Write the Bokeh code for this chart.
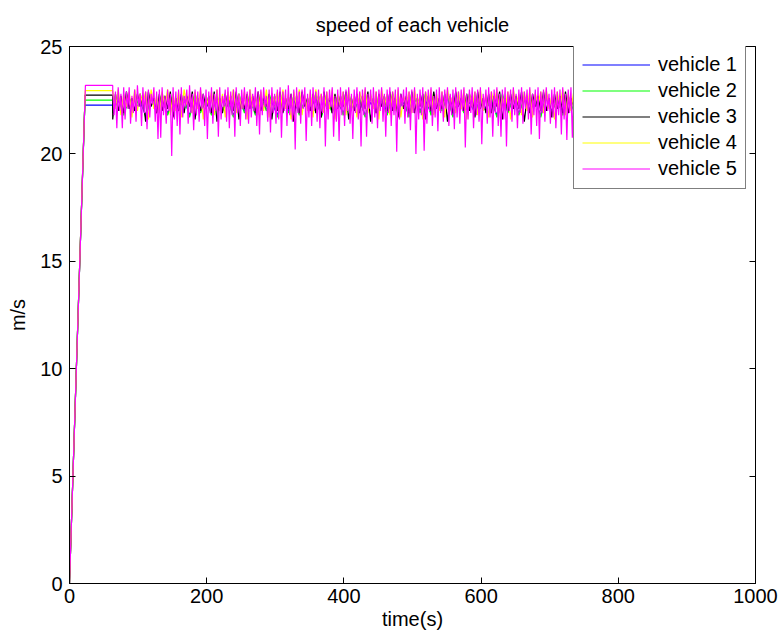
import numpy as np
from bokeh.plotting import figure
from bokeh.models import Range1d, LinearAxis, FixedTicker, CustomJSTickFormatter
from bokeh.embed import file_html
from bokeh.resources import INLINE

title_text = "speed of each vehicle"
names = ["vehicle 1", "vehicle 2", "vehicle 3", "vehicle 4", "vehicle 5"]
colors = ["#0000ff", "#00ff00", "#000000", "#ffff00", "#ff00ff"]
cruise = [22.27, 22.5, 22.74, 22.95, 23.19]     # plateau speed after the ramp
ramp_end = [22.3, 22.5, 22.7, 22.9, 23.2]       # time (s) the ramp ends
osc_start = 63                                   # time (s) oscillation begins
steps = [8, 8, 4, 4, 2]                          # sample step (s) of each series

v1 = [22.0, 22.5, 21.9, 22.6, 22.1, 22.4, 21.8, 22.6, 22.0, 22.5,
      21.9, 22.4, 22.1, 22.6, 21.8, 22.5, 22.0, 22.4, 21.9, 22.6,
      22.1, 22.5, 21.8, 22.4, 22.0, 22.6, 21.9, 22.5, 22.1, 22.4,
      21.8, 22.6, 22.0, 22.5, 21.9, 22.4, 22.1, 22.6, 21.8, 22.5,
      22.0, 22.4, 21.9, 22.6, 22.1, 22.5, 21.8, 22.4, 22.0, 22.6,
      21.9, 22.5, 22.1, 22.4, 21.8, 22.6, 22.0, 22.5, 21.9, 22.4,
      22.1, 22.6, 21.8, 22.5, 22.0, 22.4, 21.9, 22.6, 22.1, 22.5,
      21.8, 22.4, 22.0, 22.6, 21.9, 22.5, 22.1, 22.4, 21.8, 22.6,
      22.0, 22.5, 21.9, 22.4, 22.1, 22.5, 22.0]
v2 = [21.9, 22.7, 21.8, 22.6, 22.0, 22.8, 21.7, 22.6, 21.9, 22.8,
      21.8, 22.5, 22.0, 22.7, 21.7, 22.8, 21.9, 22.6, 21.8, 22.7,
      22.0, 22.5, 21.7, 22.8, 21.9, 22.6, 21.8, 22.7, 22.0, 22.8,
      21.7, 22.6, 21.9, 22.7, 21.8, 22.5, 22.0, 22.8, 21.7, 22.6,
      21.9, 22.7, 21.8, 22.8, 22.0, 22.6, 21.7, 22.7, 21.9, 22.5,
      21.8, 22.8, 22.0, 22.6, 21.7, 22.7, 21.9, 22.8, 21.8, 22.6,
      22.0, 22.7, 21.7, 22.5, 21.9, 22.8, 21.8, 22.6, 22.0, 22.7,
      21.7, 22.8, 21.9, 22.6, 21.8, 22.7, 22.0, 22.5, 21.7, 22.8,
      21.9, 22.6, 21.8, 22.7, 22.0, 22.6, 21.9]
v3 = [21.6, 22.8, 22.0, 22.7, 21.9, 22.9, 22.1, 22.6, 22.0, 22.8,
      22.2, 22.7, 21.5, 22.9, 22.2, 22.6, 21.9, 22.8, 22.0, 22.7,
      22.1, 22.9, 21.7, 22.6, 22.0, 22.8, 21.9, 22.7, 22.2, 22.9,
      21.6, 22.6, 22.0, 22.8, 22.1, 22.7, 21.9, 22.9, 21.5, 22.6,
      21.9, 22.8, 22.2, 22.7, 22.0, 22.9, 21.6, 22.6, 22.1, 22.8,
      22.1, 22.7, 21.9, 22.9, 22.0, 22.6, 22.2, 22.8, 21.6, 22.7,
      22.0, 22.9, 21.9, 22.6, 22.1, 22.8, 21.5, 22.7, 21.9, 22.9,
      22.2, 22.6, 22.0, 22.8, 21.9, 22.7, 21.7, 22.9, 22.1, 22.6,
      21.9, 22.8, 22.1, 22.7, 22.2, 22.9, 21.6, 22.6, 22.0, 22.8,
      21.9, 22.7, 22.1, 22.9, 21.5, 22.6, 21.9, 22.8, 22.2, 22.7,
      22.0, 22.9, 22.0, 22.6, 21.7, 22.8, 22.1, 22.7, 21.9, 22.9,
      21.9, 22.6, 22.2, 22.8, 21.6, 22.7, 22.0, 22.9, 22.1, 22.6,
      22.1, 22.8, 21.5, 22.7, 21.9, 22.9, 22.2, 22.6, 22.0, 22.8,
      22.0, 22.7, 21.7, 22.9, 22.1, 22.6, 21.9, 22.8, 21.9, 22.7,
      22.2, 22.9, 21.6, 22.6, 22.0, 22.8, 22.1, 22.7, 22.1, 22.9,
      21.5, 22.6, 21.9, 22.8, 22.2, 22.7, 22.0, 22.9, 22.0, 22.6,
      21.7, 22.8, 22.1, 22.7, 21.9, 22.9, 21.9, 22.6, 22.2, 22.8,
      21.6, 22.7, 22.0]
v4 = [22.9, 22.1, 23.0, 21.8, 22.8, 22.2, 22.9, 21.7, 23.0, 22.0,
      22.8, 22.3, 22.9, 21.6, 23.0, 22.1, 22.7, 21.9, 22.9, 22.2,
      23.0, 21.8, 22.8, 22.0, 22.9, 21.7, 23.0, 22.3, 22.8, 21.9,
      22.9, 22.1, 23.0, 21.6, 22.7, 22.2, 22.9, 21.8, 23.0, 22.0,
      22.8, 21.7, 22.9, 22.3, 23.0, 21.9, 22.8, 22.1, 22.9, 21.6,
      23.0, 22.2, 22.7, 21.8, 22.9, 22.0, 23.0, 21.7, 22.8, 22.3,
      22.9, 21.9, 23.0, 22.1, 22.8, 21.6, 22.9, 22.2, 23.0, 21.8,
      22.7, 22.0, 22.9, 21.7, 23.0, 22.3, 22.8, 21.9, 22.9, 22.1,
      23.0, 21.6, 22.8, 22.2, 22.9, 21.8, 23.0, 22.0, 22.7, 21.7,
      22.9, 22.3, 23.0, 21.9, 22.8, 22.1, 22.9, 21.6, 23.0, 22.2,
      22.8, 21.8, 22.9, 22.0, 23.0, 21.7, 22.7, 22.3, 22.9, 21.9,
      23.0, 22.1, 22.8, 21.6, 22.9, 22.2, 23.0, 21.8, 22.8, 22.0,
      22.9, 21.7, 23.0, 22.3, 22.7, 21.9, 22.9, 22.1, 23.0, 21.6,
      22.8, 22.2, 22.9, 21.8, 23.0, 22.0, 22.8, 21.7, 22.9, 22.3,
      23.0, 21.9, 22.7, 22.1, 22.9, 21.6, 23.0, 22.2, 22.8, 21.8,
      22.9, 22.0, 23.0, 21.7, 22.8, 22.3, 22.9, 21.9, 23.0, 22.1,
      22.7, 21.6, 22.9, 22.2, 23.0, 21.8, 22.8, 22.0, 22.9, 21.7,
      23.0, 22.3, 22.8]
v5 = [23.0, 21.8, 22.9, 21.2, 23.1, 22.0, 22.8, 21.2, 23.1, 21.6,
      22.9, 22.1, 23.1, 21.4, 22.7, 21.9, 23.0, 21.5, 23.2, 22.2,
      22.8, 21.3, 23.1, 21.9, 22.9, 21.15, 23.0, 21.7, 22.8, 22.3,
      23.1, 21.5, 22.9, 20.7, 23.0, 20.75, 23.1, 21.8, 22.7, 21.4,
      23.0, 22.0, 22.8, 19.9, 23.1, 21.6, 22.9, 21.3, 23.0, 20.9,
      23.1, 21.7, 22.7, 22.2, 23.0, 21.4, 23.2, 21.9, 22.8, 21.1,
      23.0, 21.8, 22.9, 21.5, 23.1, 22.1, 22.8, 21.3, 23.0, 20.7,
      22.9, 21.9, 23.1, 21.4, 22.8, 22.0, 23.0, 20.8, 23.1, 21.6,
      22.7, 22.2, 23.0, 21.5, 23.1, 21.2, 22.9, 21.8, 23.0, 20.8,
      23.1, 21.9, 22.8, 21.3, 23.0, 22.1, 23.1, 21.6, 22.9, 21.4,
      23.0, 21.7, 22.8, 22.0, 23.1, 21.3, 22.9, 20.9, 23.0, 21.8,
      23.1, 22.2, 22.7, 21.5, 23.0, 21.0, 23.1, 21.9, 22.8, 21.4,
      23.0, 21.6, 23.1, 20.75, 22.9, 22.0, 23.0, 21.3, 23.2, 21.8,
      22.8, 21.5, 23.0, 20.2, 23.1, 21.9, 22.9, 21.4, 23.0, 22.1,
      23.1, 20.6, 22.8, 21.7, 23.0, 21.3, 23.1, 22.0, 22.9, 21.5,
      23.0, 21.2, 22.8, 21.9, 23.1, 20.35, 22.9, 21.6, 23.0, 22.2,
      23.1, 20.8, 22.7, 21.5, 23.0, 20.6, 23.1, 21.8, 22.9, 21.3,
      23.0, 22.0, 23.1, 21.4, 22.8, 20.7, 23.0, 21.9, 23.1, 21.6,
      22.9, 20.35, 23.0, 21.8, 23.1, 20.8, 22.8, 22.1, 23.0, 21.4,
      23.1, 21.7, 22.9, 21.2, 23.0, 22.0, 23.1, 21.5, 22.8, 20.8,
      23.0, 21.9, 23.1, 21.3, 22.9, 21.8, 23.0, 20.1, 23.1, 21.6,
      22.8, 22.2, 23.0, 21.4, 23.1, 21.7, 22.9, 21.1, 23.0, 21.9,
      23.1, 20.0, 22.8, 21.6, 23.0, 21.8, 23.1, 20.15, 22.9, 21.4,
      23.0, 22.0, 23.1, 21.3, 22.7, 21.7, 23.0, 21.05, 23.1, 21.9,
      22.9, 21.5, 23.0, 22.1, 23.1, 21.3, 22.8, 21.8, 23.0, 21.15,
      23.1, 21.7, 22.9, 21.4, 23.0, 22.0, 23.1, 20.3, 22.8, 21.6,
      23.0, 21.9, 23.1, 21.2, 22.9, 21.8, 23.0, 21.5, 23.1, 20.45,
      22.8, 22.1, 23.0, 21.4, 23.1, 21.7, 22.9, 20.8, 23.0, 21.9,
      23.1, 21.3, 22.8, 20.8, 23.0, 21.6, 23.1, 20.35, 22.9, 22.0,
      23.0, 21.5, 23.1, 21.8, 22.8, 21.2, 23.0, 21.9, 23.1, 21.4,
      22.9, 22.1, 23.0, 21.6, 23.1, 20.9, 22.8, 21.8, 23.0, 21.3,
      23.1, 20.7, 22.9, 21.9, 23.0, 21.5, 23.1, 22.0, 22.8, 21.4,
      23.0, 21.7, 23.1, 21.2, 22.9, 21.8, 23.0, 20.9, 23.1, 21.6,
      22.8, 20.65, 23.0, 21.9, 23.1, 20.75, 22.9, 21.5, 23.0, 22.1,
      23.1, 21.4, 22.9, 21.8, 23.0]

series = [v1, v2, v3, v4, v5]

x_ticks = [0, 200, 400, 600, 800, 1000]
y_ticks = [0, 5, 10, 15, 20, 25]
x_lim = (0, 1000)
y_lim = (0, 25)

FONT = "Liberation Sans"
FS = "20px"

p = figure(width=783, height=642, x_range=Range1d(*x_lim), y_range=Range1d(*y_lim),
           output_backend="svg", toolbar_location=None, title=title_text,
           min_border_left=69, min_border_right=28, min_border_top=45, min_border_bottom=59,
           background_fill_color="white", border_fill_color="white")

p.title.align = "center"
p.title.text_font = FONT
p.title.text_font_size = FS
p.title.text_font_style = "normal"
p.title.text_color = "black"
p.title.standoff = 22

p.grid.visible = False
p.outline_line_color = "black"
p.outline_line_width = 1

for i in range(5):
    noise = series[i]
    t_noise = osc_start + steps[i] * np.arange(len(noise))
    t = np.concatenate([[0.0, ramp_end[i], osc_start], t_noise])
    v = np.concatenate([[0.0, cruise[i], cruise[i]], noise])
    p.line(t, v, color=colors[i], line_width=1.2, legend_label=names[i])

for ax in (p.xaxis[0], p.yaxis[0]):
    ax.axis_line_color = "black"
    ax.major_tick_line_color = "black"
    ax.major_tick_in = 6
    ax.major_tick_out = 0
    ax.minor_tick_line_color = None
    ax.major_label_text_font = FONT
    ax.major_label_text_font_size = FS
    ax.major_label_text_color = "black"
    ax.axis_label_text_font = FONT
    ax.axis_label_text_font_size = FS
    ax.axis_label_text_font_style = "normal"
    ax.axis_label_text_color = "black"

p.xaxis[0].ticker = FixedTicker(ticks=x_ticks)
p.yaxis[0].ticker = FixedTicker(ticks=y_ticks)
p.xaxis[0].axis_label = "time(s)"
p.yaxis[0].axis_label = "m/s"
p.xaxis[0].major_label_standoff = 5
p.yaxis[0].major_label_standoff = 7
p.xaxis[0].axis_label_standoff = 2
p.yaxis[0].axis_label_standoff = 8

blank = CustomJSTickFormatter(code="return ''")
top = LinearAxis(ticker=FixedTicker(ticks=x_ticks), formatter=blank,
                 major_tick_in=6, major_tick_out=0, minor_tick_line_color=None,
                 axis_line_color=None, major_tick_line_color="black", major_label_standoff=0)
right = LinearAxis(ticker=FixedTicker(ticks=y_ticks), formatter=blank,
                   major_tick_in=6, major_tick_out=0, minor_tick_line_color=None,
                   axis_line_color=None, major_tick_line_color="black", major_label_standoff=0)
p.add_layout(top, "above")
p.add_layout(right, "right")

lg = p.legend[0]
lg.location = (504, 394)
lg.margin = 0
lg.padding = 8
lg.spacing = 3
lg.glyph_width = 68
lg.glyph_height = 21
lg.label_height = 21
lg.label_standoff = 8
lg.label_text_font = FONT
lg.label_text_font_size = FS
lg.label_text_color = "black"
lg.border_line_color = "black"
lg.border_line_width = 1
lg.background_fill_color = "white"
lg.background_fill_alpha = 1.0

open("out.html", "w").write(file_html(p, INLINE))
